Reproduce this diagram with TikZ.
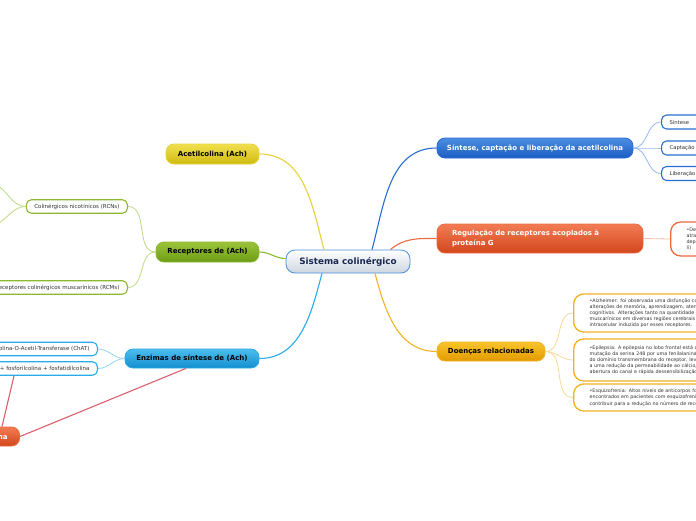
\documentclass[tikz,border=0pt]{standalone}
\usepackage{fontspec}
\setmainfont{DejaVu Sans}
\usetikzlibrary{calc}
\definecolor{txtgray}{HTML}{333333}
\definecolor{navy}{HTML}{1A2850}
\definecolor{cenborder}{HTML}{4A90DC}
\definecolor{cenbot}{HTML}{CDD6E0}
\definecolor{acetTop}{HTML}{F0E050}
\definecolor{acetBot}{HTML}{D0BA10}
\definecolor{acetLine}{HTML}{E8D23A}
\definecolor{recTop}{HTML}{9CC43A}
\definecolor{recBot}{HTML}{6C9C14}
\definecolor{recLine}{HTML}{8CB830}
\definecolor{recLight}{HTML}{BCDA84}
\definecolor{enzTop}{HTML}{4CBEEE}
\definecolor{enzBot}{HTML}{138ED0}
\definecolor{enzLine}{HTML}{2AAAE8}
\definecolor{enzLight}{HTML}{94D2F2}
\definecolor{sinTop}{HTML}{4C8EE2}
\definecolor{sinBot}{HTML}{1C5CC2}
\definecolor{sinLine}{HTML}{2A6CD4}
\definecolor{sinLight}{HTML}{94B8EA}
\definecolor{regTop}{HTML}{F27C54}
\definecolor{regBot}{HTML}{D2461C}
\definecolor{regLine}{HTML}{EC6A40}
\definecolor{regLight}{HTML}{F6BCA6}
\definecolor{doeTop}{HTML}{F9C42C}
\definecolor{doeBot}{HTML}{E29A00}
\definecolor{doeLine}{HTML}{F2B224}
\definecolor{doeLight}{HTML}{F8DA96}
\definecolor{relLine}{HTML}{D8606C}
\begin{document}
\begin{tikzpicture}[x=1pt,y=1pt,
  mainnode/.style={rounded corners=8pt, inner sep=0pt, line width=0.8pt,
    font=\bfseries\fontsize{7}{8}\selectfont},
  lsub/.style={draw, fill=white, rounded corners=5pt, line width=1.1pt,
    inner ysep=0pt, inner xsep=8pt, minimum height=13.5pt, anchor=east,
    font=\fontsize{5.5}{6.5}\selectfont, text=txtgray},
  rsub/.style={draw=sinLine, fill=white, rounded corners=5pt, line width=1.1pt,
    inner ysep=0pt, inner xsep=8pt, minimum height=14pt, anchor=west,
    text width=50pt, align=left, font=\fontsize{5.3}{6}\selectfont, text=txtgray},
  leafbox/.style={draw, fill=white, rounded corners=10pt, line width=1.3pt,
    inner ysep=0pt, inner xsep=16pt, anchor=west, text width=220pt, align=left,
    font=\fontsize{4.8}{6.2}\selectfont, text=txtgray},
  link/.style={line width=1.1pt},
  sublink/.style={line width=0.8pt},
  rel/.style={draw=relLine, line width=1.1pt}]
\useasboundingbox (0,0) rectangle (696,-520);

% central
\node[mainnode, draw=cenborder, top color=white, bottom color=cenbot, text=navy,
  font=\bfseries\fontsize{8.8}{10}\selectfont, minimum width=124pt, minimum height=23pt,
  rounded corners=9pt] (c) at (348,-261.5) {Sistema colinérgico};

% main topics
\node[mainnode, draw=acetLine, top color=acetTop, bottom color=acetBot, text=black,
  minimum width=93pt, minimum height=20pt] (acet) at (212.5,-154) {Acetilcolina (Ach)};
\node[mainnode, draw=recLine, top color=recTop, bottom color=recBot, text=black,
  minimum width=103pt, minimum height=20pt] (rec) at (207.5,-252) {Receptores de (Ach)};
\node[mainnode, draw=enzLine, top color=enzTop, bottom color=enzBot, text=black,
  minimum width=134pt, minimum height=19pt] (enz) at (192,-358.5) {Enzimas de síntese de (Ach)};
\node[mainnode, draw=sinLine, top color=sinTop, bottom color=sinBot, text=white,
  minimum width=196pt, minimum height=20pt] (sin) at (535,-148) {Síntese, captação e liberação da acetilcolina};
\node[mainnode, draw=regLine, top color=regTop, bottom color=regBot, text=white,
  minimum width=206pt, minimum height=29pt, text width=176pt, inner xsep=15pt, align=left,
  font=\bfseries\fontsize{7}{9.5}\selectfont] (reg) at (540,-238.5)
  {Regulação de receptores acoplados à\\proteína G};
\node[mainnode, draw=doeLine, top color=doeTop, bottom color=doeBot, text=black,
  minimum width=108pt, minimum height=19pt] (doe) at (491,-351.5) {Doenças relacionadas};
\node[mainnode, draw=regLine, top color=regTop, bottom color=regBot, text=white,
  minimum height=19pt, inner xsep=12pt, anchor=east] (col) at (20,-436.5) {Colina};

% right sub nodes
\node[rsub] (s1) at (661,-122) {Síntese};
\node[rsub] (s2) at (661,-148) {Captação};
\node[rsub] (s3) at (661,-173.5) {Liberação};
\node[leafbox, draw=regLine, minimum height=34pt, text width=120pt] (r1) at (670,-239)
  {•Dessensibilização\\através de fosforilação\\dependente de quinases\\li)};
\node[leafbox, draw=doeLine, minimum height=38pt] (d1) at (573,-313)
  {•Alzheimer: foi observada uma disfunção colinérgica, com\\
   alterações de memória, aprendizagem, atenção e outros\\
   cognitivos. Alterações tanto na quantidade de receptores\\
   muscarínicos em diversas regiões cerebrais quanto na sinalização\\
   intracelular induzida por esses receptores.};
\node[leafbox, draw=doeLine, minimum height=42pt] (d2) at (573,-360)
  {•Epilepsia: A epilepsia no lobo frontal está associada à\\
   mutação da serina 248 por uma fenilalanina\\
   do domínio transmembrana do receptor, levando\\
   a uma redução da permeabilidade ao cálcio,\\
   abertura do canal e rápida dessensibilização.};
\node[leafbox, draw=doeLine, minimum height=27pt] (d3) at (573,-397.5)
  {•Esquizofrenia: Altos níveis de anticorpos foram\\
   encontrados em pacientes com esquizofrenia, o que pode\\
   contribuir para a redução no número de receptores.};

% left sub nodes
\node[lsub, draw=recLine] (nic) at (128,-206.5) {Colinérgicos nicotínicos (RCNs)};
\node[lsub, draw=recLine] (mus) at (128,-287.5) {Receptores colinérgicos muscarínicos (RCMs)};
\node[lsub, draw=enzLine] (chat) at (98,-349) {Colina-O-Acetil-Transferase (ChAT)};
\node[lsub, draw=enzLine] (fos) at (98,-368.5) {Colina + fosforilcolina + fosfatidilcolina};
\coordinate (n1) at (-10,-184);
\coordinate (n2) at (-10,-225);

% main connectors
\draw[link, acetLine] ($(c.north)+(-24,0)$) to[out=105,in=0] (acet.east);
\draw[link, recLine] ($(c.west)+(0,3)$) to[out=180,in=0] (rec.east);
\draw[link, enzLine] ($(c.south)+(-26,0)$) to[out=-105,in=0] (enz.east);
\draw[link, sinLine] ($(c.north)+(24,0)$) to[out=75,in=180] (sin.west);
\draw[link, regLine] ($(c.north east)+(-20,0)$) to[out=40,in=180] (reg.west);
\draw[link, doeLine] ($(c.south)+(27,0)$) to[out=-75,in=180] (doe.west);

% sub connectors
\foreach \s in {s1,s2,s3} \draw[sublink, sinLight] (sin.east) to[out=0,in=180] (\s.west);
\draw[sublink, regLight] (reg.east) -- (r1.west);
\foreach \s in {d1,d2,d3} \draw[sublink, doeLight] (doe.east) to[out=0,in=180] (\s.west);
\foreach \s in {nic,mus} \draw[sublink, recLight] (rec.west) to[out=180,in=0] (\s.east);
\foreach \s in {chat,fos} \draw[sublink, enzLight] (enz.west) to[out=180,in=0] (\s.east);
\foreach \s in {n1,n2} \draw[sublink, recLight] (nic.west) to[out=180,in=0] (\s);

% relation lines
\draw[rel] ($(enz.south)+(-6,0)$) -- (col.east);
\draw[rel] ($(fos.south east)+(-84,0)$) -- ($(col.north east)+(-18,0)$);
\end{tikzpicture}
\end{document}
